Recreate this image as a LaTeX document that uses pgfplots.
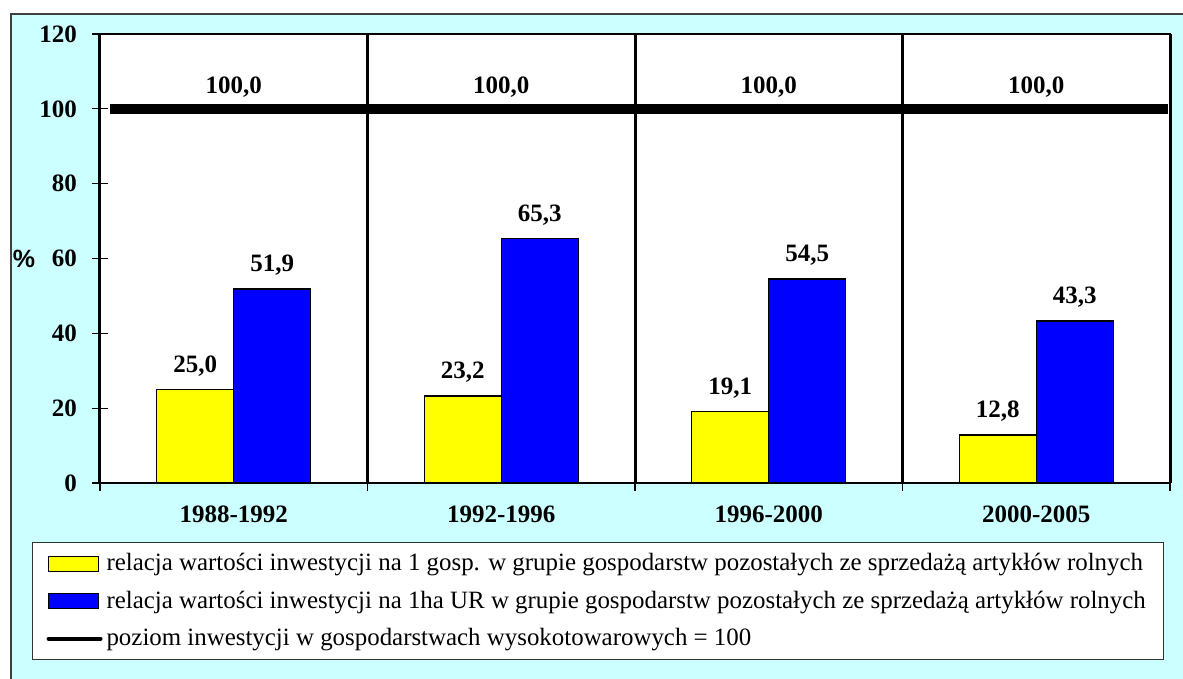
\documentclass[border=0pt]{standalone}
\usepackage{pgfplots}
\pgfplotsset{compat=1.18}
\usepackage{fontspec}
\setmainfont{Liberation Serif}
\newfontfamily\arialbf{Liberation Sans}
\definecolor{bgcyan}{HTML}{CCFFFF}
\definecolor{barblue}{HTML}{0000FF}
\definecolor{baryellow}{HTML}{FFFF00}
\newcommand{\bigbf}{\rmfamily\bfseries\fontsize{12.5}{15}\selectfont}

\begin{document}
\begin{tikzpicture}
\useasboundingbox (0,0) rectangle (591.5pt,339.5pt);
\fill[white] (0,0) rectangle (591.5pt,339.5pt);
\draw[fill=bgcyan, draw=black!75, line width=0.7pt] (5.5pt,-10pt) rectangle (600pt,332.5pt);
\begin{axis}[
  at={(50pt,98pt)}, anchor=south west,
  width=535pt, height=224.5pt, scale only axis,
  xmin=-0.5, xmax=3.5, ymin=0, ymax=120,
  axis background/.style={fill=white},
  axis line style={black, line width=1pt},
  ytick={0,20,...,120}, ytick pos=left,
  tick align=center, major tick length=8pt,
  tick style={black, line width=0.6pt},
  xtick={-0.5,0.5,1.5,2.5,3.5}, xticklabels={}, xtick pos=bottom,
  xmajorgrids, x grid style={black, line width=1.5pt},
  extra x ticks={0,1,2,3},
  extra x tick labels={1988-1992,1992-1996,1996-2000,2000-2005},
  extra x tick style={major tick length=0pt, grid=none,
    tick label style={yshift=-8pt}},
  tick label style={font=\bigbf},
  yticklabel style={xshift=-4pt},
  /pgf/number format/assume math mode=true,
  clip=false,
  legend cell align=left,
  legend style={at={(axis description cs:-0.0636,-0.1314)}, anchor=north west,
    draw=black!80, fill=white, line width=0.6pt,
    font=\rmfamily\fontsize{12.45}{14}\selectfont,
    inner xsep=7pt, inner ysep=3.5pt, row sep=4.6pt,
    nodes={inner sep=2pt}},
  nodes near coords={\pgfmathprintnumber[fixed,fixed zerofill,precision=1,use comma]{\pgfplotspointmeta}},
  every node near coord/.append style={font=\bigbf, black, yshift=3pt},
  bar legend/.style={legend image code/.code={
    \draw[##1, line width=0.6pt] (0pt,-3.75pt) rectangle (25pt,3.75pt);}},
]
\addplot[ybar, bar width=38.5pt, bar shift=-19.25pt, fill=baryellow, draw=black,
  line width=0.7pt, bar legend,
  every node near coord/.append style={xshift=-19.25pt}]
  coordinates {(0,25.0) (1,23.2) (2,19.1) (3,12.8)};
\addlegendentry{relacja wartości inwestycji na 1 gosp. w grupie gospodarstw pozostałych ze sprzedażą artykłów rolnych}
\addplot[ybar, bar width=38.5pt, bar shift=19.25pt, fill=barblue, draw=black,
  line width=0.7pt, bar legend,
  every node near coord/.append style={xshift=19.25pt}]
  coordinates {(0,51.9) (1,65.3) (2,54.5) (3,43.3)};
\addlegendentry{relacja wartości inwestycji na 1ha UR w grupie gospodarstw pozostałych ze sprzedażą artykłów rolnych}
\addplot[black, line width=5pt, nodes near coords={},
  legend image code/.code={\draw[black, line width=2pt, line cap=round] (0pt,0pt) -- (26pt,0pt);}]
  coordinates {(-0.4626,100) (3.492,100)};
\addlegendentry{poziom inwestycji w gospodarstwach wysokotowarowych = 100}
\addplot[draw=none, forget plot, every node near coord/.append style={yshift=-1pt}]
  coordinates {(0,100) (1,100) (2,100) (3,100)};
\node[font=\arialbf\bfseries\fontsize{12.5}{15}\selectfont] at (axis description cs:-0.071,0.5) {\%};
\end{axis}
\end{tikzpicture}
\end{document}
